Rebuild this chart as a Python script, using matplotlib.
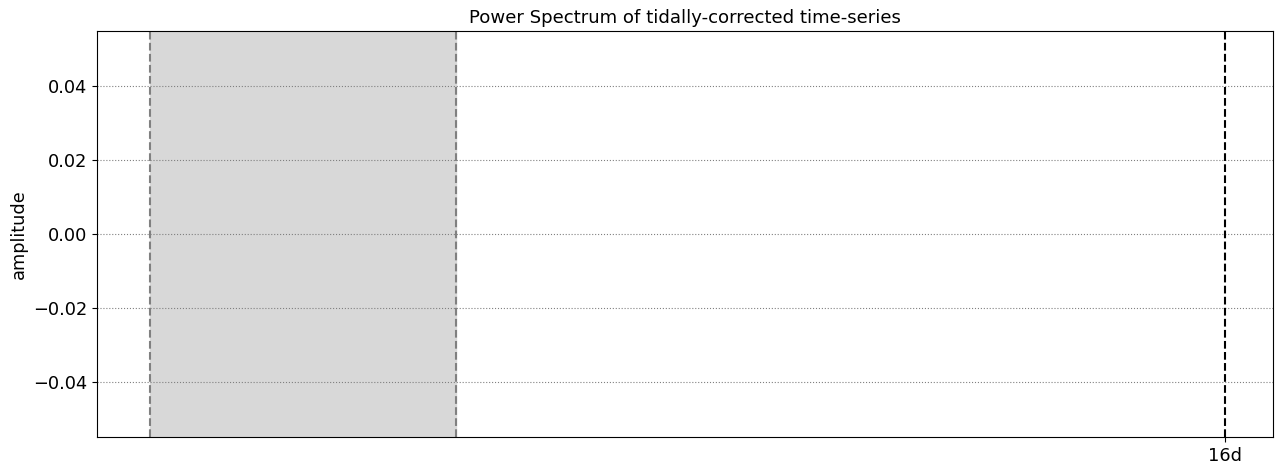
import matplotlib
matplotlib.use('Agg')
import matplotlib.pyplot as plt

plt.rcParams['font.size'] = 12.8

# frequency axis (arbitrary units), shaded band and the 16-day marker
x_limits = [0.0, 1.0]
band_edges = [0.045, 0.305]
marker_pos = [0.959]
marker_labels = ['16d']
y_limits = [-0.055, 0.055]
y_ticks = [-0.04, -0.02, 0.00, 0.02, 0.04]

fig = plt.figure(figsize=(12.85, 4.7), dpi=100)
ax = fig.add_axes([0.0755, 0.0702, 0.9152, 0.8638])

ax.axvspan(band_edges[0], band_edges[1], color='#d8d8d8', zorder=0)
for e in band_edges:
    ax.axvline(e, color='gray', ls='--', lw=1.5)
for p in marker_pos:
    ax.axvline(p, color='black', ls='--', lw=1.5)

ax.set_xlim(x_limits)
ax.set_ylim(y_limits)
ax.set_yticks(y_ticks)
ax.set_xticks(marker_pos)
ax.set_xticklabels(marker_labels)
ax.yaxis.grid(True, ls=':', color='gray', lw=0.8)
ax.set_ylabel('amplitude')
ax.set_title('Power Spectrum of tidally-corrected time-series', fontsize=13.1)

plt.savefig('out.png', dpi=100)
